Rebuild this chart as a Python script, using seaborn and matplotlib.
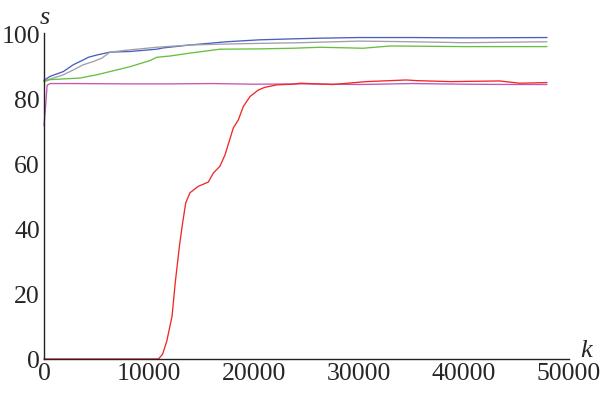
import numpy as np
import pandas as pd
import matplotlib
matplotlib.use("Agg")
import matplotlib.pyplot as plt
import seaborn as sns
from matplotlib.ticker import MultipleLocator

# ---- data ----
blue_k = [0, 570, 1840, 2790, 3740, 4220, 5020, 6290, 8190, 10730, 11360, 13900,
          17400, 20570, 23740, 26290, 30000, 35000, 40000, 47900]
blue_s = [86.0, 87.2, 88.7, 90.8, 92.3, 93.1, 93.8, 94.7, 94.9, 95.6, 96.0, 96.9,
          97.9, 98.5, 98.8, 99.0, 99.2, 99.2, 99.1, 99.2]

gray_k = [0, 1840, 2790, 3740, 4700, 5490, 6290, 8190, 10730, 13900, 17400, 20570,
          24400, 30000, 35000, 40000, 47900]
gray_s = [85.8, 87.7, 89.2, 90.8, 91.8, 92.8, 94.7, 95.4, 96.2, 96.9, 97.2, 97.4,
          97.6, 98.1, 97.9, 97.6, 97.9]

green_k = [0, 570, 3430, 5020, 6290, 8190, 10100, 10730, 12000, 13900, 16760, 20570,
           23740, 26290, 30400, 33000, 40000, 47900]
green_s = [85.6, 86.2, 86.7, 87.7, 88.7, 90.2, 92.1, 93.1, 93.5, 94.4, 95.6, 95.7,
           95.9, 96.2, 95.9, 96.6, 96.4, 96.4]

magenta_k = [0, 150, 300, 600, 3000, 8000, 12000, 16000, 20000, 25000, 30000, 35000,
             40000, 45000, 47900]
magenta_s = [72, 78, 84.5, 85.0, 85.0, 84.9, 84.9, 85.0, 84.8, 84.9, 84.7, 85.0,
             84.8, 84.7, 84.7]

red_k = [0, 10900, 11300, 11700, 12200, 12500, 12900, 13200, 13500, 13900, 14700, 15650,
         16130, 16760, 17240, 18030, 18510, 18980, 19620, 20410, 21000, 22160, 23700,
         24400, 27500, 30700, 34500, 35500, 38700, 43400, 45300, 47900]
red_s = [0, 0, 1.5, 5.6, 13.3, 23.6, 34.9, 42, 48.2, 51.3, 53.3, 54.6, 57.4, 59.5, 63,
         71.3, 73.8, 77.9, 81, 83, 83.8, 84.6, 84.8, 85.1, 84.7, 85.6, 86.1, 85.9,
         85.6, 85.8, 85.1, 85.3]

x_ticks = [0, 10000, 20000, 30000, 40000, 50000]
y_ticks = [0, 20, 40, 60, 80, 100]

series = [
    (blue_k, blue_s, "#4a5fc0"),
    (gray_k, gray_s, "#a0a0a8"),
    (green_k, green_s, "#66c040"),
    (magenta_k, magenta_s, "#c058b8"),
    (red_k, red_s, "#f02828"),
]

sns.set_style("white")
plt.rcParams["font.family"] = ["Liberation Serif", "DejaVu Serif"]

fig = plt.figure(figsize=(6, 3.95), dpi=100)
ax = fig.add_axes([44 / 600, 1 - 359 / 395, (569 - 44) / 600, (359 - 33) / 395])

for k, s, c in series:
    df = pd.DataFrame({"k": k, "s": s})
    sns.lineplot(data=df, x="k", y="s", color=c, lw=0.95, ax=ax, estimator=None,
                 sort=False)

ax.set_xlim(0, 50000)
ax.set_ylim(0, 100.6)
ax.set_xticks(x_ticks)
ax.set_yticks(y_ticks)
ax.set_xticklabels([str(v) for v in x_ticks])
ax.set_yticklabels([str(v) for v in y_ticks])
ax.xaxis.set_minor_locator(MultipleLocator(2000))
ax.yaxis.set_minor_locator(MultipleLocator(5))

for side in ["top", "right"]:
    ax.spines[side].set_visible(False)
for side in ["left", "bottom"]:
    ax.spines[side].set_color("#222222")
    ax.spines[side].set_linewidth(1.0)
    ax.spines[side].set_zorder(5)

ax.tick_params(axis="both", which="major", direction="in", length=4.5, width=0.9,
               color="#222222", labelsize=18.5, pad=3)
ax.tick_params(axis="both", which="minor", direction="in", length=2.5, width=0.8,
               color="#222222")
ax.tick_params(axis="x", pad=3)
ax.set_xlabel("")
ax.set_ylabel("")
for ln in ax.lines:
    ln.set_clip_on(False)

ax.annotate("s", xy=(0, 1), xycoords="axes fraction", xytext=(-3, 3),
            textcoords="offset points", fontsize=19, style="italic",
            ha="left", va="bottom")
ax.annotate("k", xy=(1, 0), xycoords="axes fraction", xytext=(8, -2.5),
            textcoords="offset points", fontsize=19, style="italic",
            ha="left", va="bottom")

fig.savefig("out.png", dpi=100)
